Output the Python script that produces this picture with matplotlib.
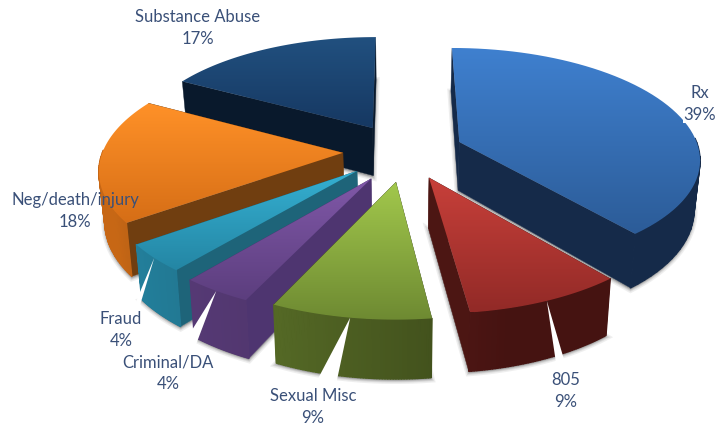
import numpy as np
import matplotlib
matplotlib.use("Agg")
import matplotlib.pyplot as plt
from matplotlib.collections import PolyCollection
from matplotlib.colors import to_rgb, LinearSegmentedColormap
from matplotlib.patches import PathPatch, Polygon
from matplotlib.path import Path

categories = ["Rx", "805", "Sexual Misc", "Criminal/DA", "Fraud", "Neg/death/injury", "Substance Abuse"]
shares = [39, 9, 9, 4, 4, 18, 17]

# styling per slice
top_light = ["#3F80CF", "#C8403A", "#A2C84C", "#8058A8", "#35B0D2", "#FF9128", "#21507F"]
top_dark = ["#2C5C98", "#922A27", "#6E8A32", "#5C3E7E", "#2486A4", "#D66E16", "#163862"]
cut_col = ["#152A49", "#4C1613", "#3F4D1B", "#4E3570", "#1E6479", "#703E10", "#09192C"]
rim_dark = ["#152A49", "#451311", "#3F4D1B", "#4A3164", "#1E6479", "#703E10", "#09192C"]
# in-plane displacement of each slice away from the pie centre
explode_u = [62, 30, -2, -26, -40, -55, -26]
explode_v = [-20, 57, 66, 59, 43, 4, -52]
# white slit in the outer wall: lean (dx per dy) and width at the wall bottom
slit_lean = [None, 0.22, -0.37, -0.50, -0.36, None, None]
slit_width = [0, 9, 20, 15, 7, 0, 0]
label_pos = [(700, 104), (566, 391), (313, 407), (168, 373), (121, 330), (75, 211), (198, 28)]
paint_order = [6, 0, 5, 4, 3, 2, 1]

CX, CY = 398.0, 151.0
RADIUS = 240.0
SQUASH = 0.455
PERSP = 0.00057
DEPTH = 49.0
BASE_SHRINK = 0.98
TEXT_COL = "#3A5078"


def project(theta, radius, du, dv):
    """Map a point of the pie plane to the tilted, perspective view."""
    u = du + radius * np.sin(theta)
    v = dv - radius * np.cos(theta)
    p = 1.0 / (1.0 - PERSP * v)
    return CX + u * p, CY + SQUASH * v * p, p


def base_of(x, y, p):
    return CX + (x - CX) * BASE_SHRINK, y + DEPTH * p


def mix(a, b, t):
    a, b = np.array(to_rgb(a)), np.array(to_rgb(b))
    return tuple(a + (b - a) * t)


fig = plt.figure(figsize=(7.23, 4.26), dpi=100)
ax = fig.add_axes([0, 0, 1, 1])
ax.set_xlim(0, 723)
ax.set_ylim(426, 0)
ax.set_axis_off()

edges = np.radians(np.concatenate([[0], np.cumsum(shares)]) * 3.6)
z = 1.0

for i in paint_order:
    t0, t1 = edges[i], edges[i + 1]
    du, dv = explode_u[i], explode_v[i]
    th = np.linspace(t0, t1, 60)
    xr, yr, pr = project(th, RADIUS, du, dv)
    xa, ya, pa = project(0.0, 0.0, du, dv)
    xb, yb = base_of(xr, yr, pr)
    xab, yab = base_of(xa, ya, pa)

    # soft shadow round the lower outline
    base_poly = np.column_stack([np.r_[xab, xb], np.r_[yab, yb] + 1.5])
    for lw, alpha in ((5, 0.10), (3, 0.14), (1.5, 0.20)):
        ax.add_patch(Polygon(base_poly, closed=True, fc="#606060", ec="#606060",
                             lw=lw, alpha=alpha, zorder=z))
    z += 1

    # the two cut faces
    for k in (0, -1):
        quad = [(xa, ya), (xr[k], yr[k]), (xb[k], yb[k]), (xab, yab)]
        ax.add_patch(Polygon(quad, closed=True, fc=cut_col[i], ec=cut_col[i],
                             lw=0.3, zorder=z))
    z += 1

    # outer wall, lit from the left; the far half faces away and stays hidden
    quads, cols = [], []
    for j in range(len(th) - 1):
        if np.cos(th[j]) > 0.02 and np.cos(th[j + 1]) > 0.02:
            continue
        quads.append([(xr[j], yr[j]), (xr[j + 1], yr[j + 1]), (xb[j + 1], yb[j + 1]), (xb[j], yb[j])])
        deg = np.degrees(th[j])
        lit = np.clip((deg - 165.0) / 75.0, 0.0, 1.0) * 0.85
        cols.append(mix(rim_dark[i], top_dark[i], lit))
    if quads:
        ax.add_collection(PolyCollection(quads, facecolors=cols, edgecolors=cols,
                                         linewidths=1.0, zorder=z))
    z += 1

    # white slit running down the outer wall at the middle of the slice
    if slit_lean[i] is not None:
        mid = 0.5 * (t0 + t1)
        xm, ym, pm = project(mid, RADIUS, du, dv)
        drop = DEPTH * pm + 4
        w = slit_width[i] / 2
        tip_x = xm + slit_lean[i] * drop
        ax.add_patch(Polygon([(xm, ym), (tip_x - w, ym + drop), (tip_x + w, ym + drop)],
                             closed=True, fc="white", ec="none", zorder=z))
        z += 1

    # top face with a vertical gradient
    verts = np.column_stack([np.r_[xa, xr, xa], np.r_[ya, yr, ya]])
    codes = [Path.MOVETO] + [Path.LINETO] * (len(xr)) + [Path.CLOSEPOLY]
    outline = PathPatch(Path(verts, codes), fc="none", ec="none", transform=ax.transData)
    ax.add_patch(outline)
    cmap = LinearSegmentedColormap.from_list("face", [top_light[i], top_dark[i]])
    ymin, ymax = verts[:, 1].min(), verts[:, 1].max()
    xmin, xmax = verts[:, 0].min(), verts[:, 0].max()
    grad = np.linspace(0, 1, 128)[:, None]
    im = ax.imshow(grad, cmap=cmap, extent=(xmin, xmax, ymax, ymin), aspect="auto",
                   origin="upper", zorder=z, interpolation="bilinear")
    im.set_clip_path(outline)
    z += 1

ax.set_xlim(0, 723)
ax.set_ylim(426, 0)

for i, (name, val) in enumerate(zip(categories, shares)):
    x, y = label_pos[i]
    ax.text(x, y, f"{name}\n{val}%", ha="center", va="center", family="Lato", fontsize=12,
            color=TEXT_COL, linespacing=1.4, zorder=z + 1,
            bbox=dict(fc="white", ec="none", pad=0.5) if name == "Rx" else None)

fig.savefig("out.png", dpi=100, facecolor="white")
